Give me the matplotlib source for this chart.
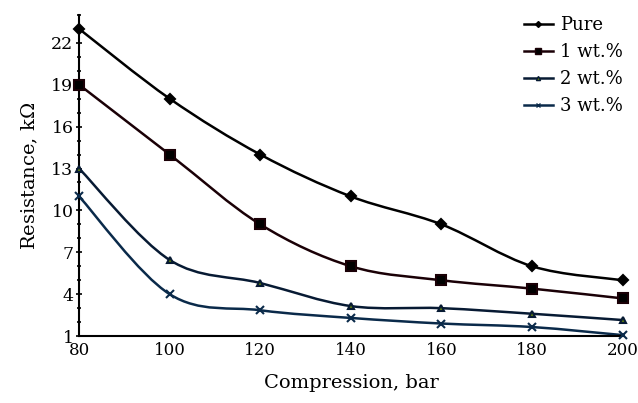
import numpy as np
import matplotlib
matplotlib.use("Agg")
import matplotlib.pyplot as plt
from matplotlib.path import Path
from matplotlib.patches import PathPatch
from matplotlib.ticker import MultipleLocator

# data
pressure = [80, 100, 120, 140, 160, 180, 200]
pure = [23.0, 18.0, 14.0, 11.0, 9.0, 6.0, 5.0]
wt1 = [19.0, 14.0, 9.0, 6.0, 5.0, 4.4, 3.7]
wt2 = [13.0, 6.45, 4.8, 3.15, 3.0, 2.6, 2.15]
wt3 = [11.0, 4.0, 2.85, 2.3, 1.9, 1.65, 1.07]
labels = ["Pure", "1 wt.%", "2 wt.%", "3 wt.%"]

plt.rcParams['font.family'] = ['DejaVu Serif']
plt.rcParams['mathtext.fontset'] = 'dejavuserif'


def smooth_path(x, y):
    # catmull-rom through the points, drawn as bezier segments
    x = np.asarray(x, float)
    y = np.asarray(y, float)
    verts = [(x[0], y[0])]
    codes = [Path.MOVETO]
    n = len(x)
    for i in range(n - 1):
        x0, y0 = (x[i - 1], y[i - 1]) if i > 0 else (x[i], y[i])
        x3, y3 = (x[i + 2], y[i + 2]) if i + 2 < n else (x[i + 1], y[i + 1])
        c1 = (x[i] + (x[i + 1] - x0) / 6, y[i] + (y[i + 1] - y0) / 6)
        c2 = (x[i + 1] - (x3 - x[i]) / 6, y[i + 1] - (y3 - y[i]) / 6)
        verts += [c1, c2, (x[i + 1], y[i + 1])]
        codes += [Path.CURVE4] * 3
    return Path(verts, codes)


fig = plt.figure(figsize=(6.38, 4.03), dpi=100)
ax = fig.add_axes([0.124, 0.166, 0.852, 0.797])

series = [pure, wt1, wt2, wt3]
colors = ['#000000', '#1a0006', '#071a33', '#0a2a4a']
markers = ['D', 's', '^', 'x']
msizes = [5, 7, 5, 6]
mfaces = ['#000000', '#000000', '#5a7a10', '#0a2a4a']

for vals, c, m, ms, mf, lab in zip(series, colors, markers, msizes, mfaces, labels):
    ax.add_patch(PathPatch(smooth_path(pressure, vals), fill=False,
                           edgecolor=c, lw=1.8, zorder=2))
    ax.plot(pressure, vals, linestyle='none', marker=m, ms=ms, color=c,
            mfc=mf, mec=c, mew=1.5, clip_on=False, zorder=3)
    ax.plot([], [], color=c, lw=1.8, marker=m, ms=ms * 0.6, mfc=mf,
            mec=c, label=lab)

ax.set_xlim(80, 200)
ax.set_ylim(1, 24)
ax.set_xticks(pressure)
ax.set_yticks([1, 4, 7, 10, 13, 16, 19, 22])
ax.yaxis.set_minor_locator(MultipleLocator(1))
ax.tick_params(axis='both', labelsize=12.5, direction='inout', length=4,
               width=1.2, pad=2)
ax.tick_params(axis='y', which='minor', direction='inout', length=3, width=1.2)
ax.tick_params(axis='x', length=0, pad=4, labelsize=12)

for s in ['top', 'right']:
    ax.spines[s].set_visible(False)
for s in ['left', 'bottom']:
    ax.spines[s].set_linewidth(1.5)

ax.set_xlabel("Compression, bar", fontsize=14, labelpad=11)
ax.set_ylabel("Resistance, k$\\Omega$", fontsize=14, labelpad=8)

ax.legend(loc='upper right', bbox_to_anchor=(1.02, 1.03), frameon=False,
          fontsize=13, handlelength=1.6, handletextpad=0.4,
          labelspacing=0.5, borderaxespad=0.2)

fig.savefig("out.png", dpi=100)
